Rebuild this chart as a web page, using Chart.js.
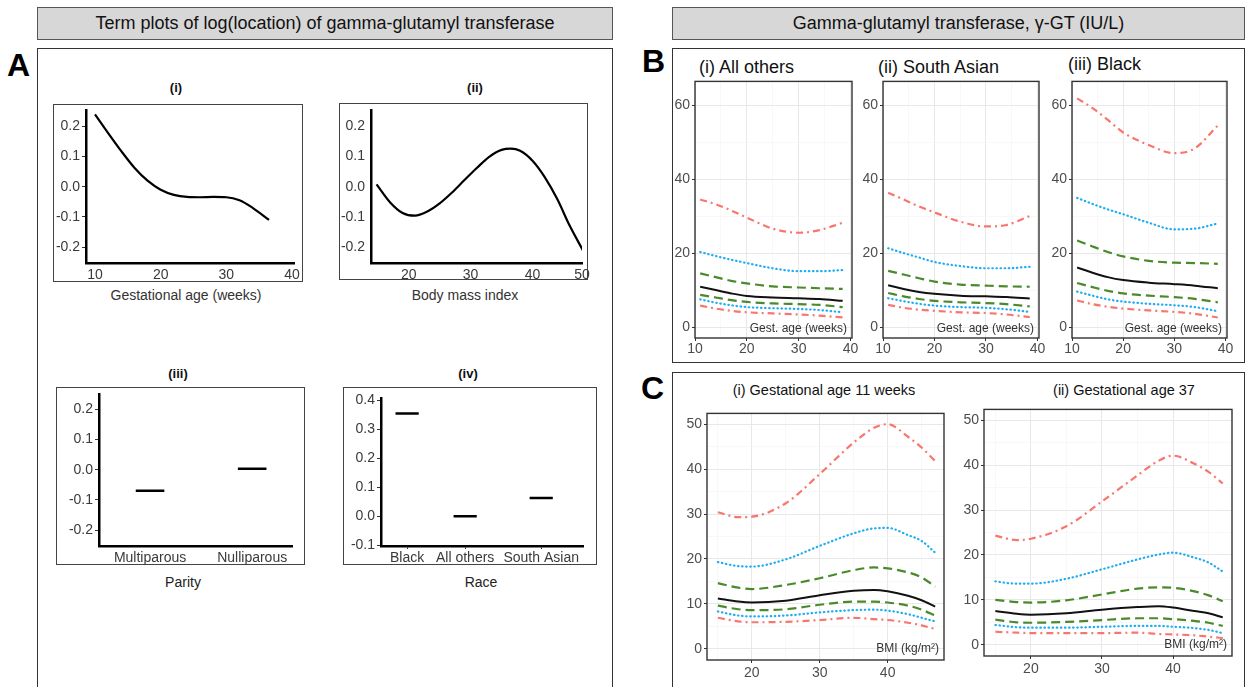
<!DOCTYPE html>
<html>
<head>
<meta charset="utf-8">
<script src="https://cdn.jsdelivr.net/npm/chart.js@4.4.0/dist/chart.umd.min.js"></script>
<style>
body { margin:0; width:1247px; height:687px; overflow:hidden; background:#fff; position:relative;
       font-family:"Liberation Sans", Arial, sans-serif; }
canvas { position:absolute; }
.hdr { position:absolute; background:#d7d7d7; border:1px solid #555; box-sizing:border-box;
       text-align:center; font-size:18px; color:#111; line-height:31px; }
.frame { position:absolute; border:1.5px solid #333; box-sizing:border-box; }
.inner { position:absolute; border:1.5px solid #444; box-sizing:border-box; }
.lett { position:absolute; font-weight:bold; font-size:32px; line-height:32px; color:#000; }
.c { position:absolute; white-space:nowrap; color:#111; transform:translate(-50%,-50%); }
.l { position:absolute; white-space:nowrap; color:#111; transform:translate(0,-50%); }
</style>
</head>
<body>
<div class="hdr" style="left:37px;top:7px;width:576px;height:33px;">Term plots of log(location) of gamma-glutamyl transferase</div>
<div class="hdr" style="left:672px;top:7px;width:573px;height:33px;">Gamma-glutamyl transferase, γ-GT (IU/L)</div>

<div class="frame" style="left:37px;top:48px;width:576px;height:660px;"></div>
<div class="frame" style="left:672px;top:48px;width:573px;height:315px;"></div>
<div class="frame" style="left:672px;top:372px;width:573px;height:330px;"></div>

<div class="lett" style="left:7px;top:49px;">A</div>
<div class="lett" style="left:642px;top:45px;">B</div>
<div class="lett" style="left:641px;top:372px;">C</div>

<div class="inner" style="left:53px;top:104px;width:250px;height:178px;"></div>
<div class="inner" style="left:339px;top:103px;width:249px;height:177px;"></div>
<div class="inner" style="left:56px;top:387px;width:249px;height:178px;"></div>
<div class="inner" style="left:343px;top:387px;width:254px;height:178px;"></div>

<div class="c" style="left:176px;top:87px;font-size:13px;font-weight:bold;">(i)</div>
<div class="c" style="left:475px;top:87px;font-size:13px;font-weight:bold;">(ii)</div>
<div class="c" style="left:178px;top:373px;font-size:13px;font-weight:bold;">(iii)</div>
<div class="c" style="left:468px;top:373px;font-size:13px;font-weight:bold;">(iv)</div>
<div class="c" style="left:186px;top:295px;font-size:14px;color:#333;">Gestational age (weeks)</div>
<div class="c" style="left:465px;top:295px;font-size:14px;color:#333;">Body mass index</div>
<div class="c" style="left:183px;top:582px;font-size:14px;color:#222;">Parity</div>
<div class="c" style="left:481px;top:582px;font-size:14px;color:#222;">Race</div>

<div class="l" style="left:699px;top:67px;font-size:18px;">(i) All others</div>
<div class="l" style="left:878px;top:67px;font-size:18px;">(ii) South Asian</div>
<div class="l" style="left:1068px;top:64px;font-size:18px;">(iii) Black</div>
<div class="c" style="left:824px;top:390px;font-size:14.5px;">(i) Gestational age 11 weeks</div>
<div class="c" style="left:1124px;top:390px;font-size:14.5px;">(ii) Gestational age 37</div>

<script>
// ---- Panel A: term plots ----
const gaWeeks = [10, 12, 14, 16, 18, 20, 22, 24, 26, 28, 30, 32, 34, 36.5];
const gaEffect = [0.24, 0.178, 0.118, 0.063, 0.02, -0.01, -0.027, -0.034, -0.035, -0.034, -0.035, -0.045, -0.07, -0.11];
const bmiValues = [14.8, 17, 19, 21, 23, 25, 27, 29, 31, 33, 35, 36.5, 38, 40, 42, 44, 46, 48.2];
const bmiEffect = [0.008, -0.052, -0.087, -0.096, -0.082, -0.055, -0.019, 0.022, 0.062, 0.099, 0.122, 0.126, 0.119, 0.086, 0.031, -0.041, -0.129, -0.213];
const parityCats = ['Multiparous', 'Nulliparous'];
const parityPos = [1, 2];
const parityEffect = [-0.07, 0.003];
const raceCats = ['Black', 'All others', 'South Asian'];
const racePos = [1, 2, 3.31];
const raceEffect = [0.355, 0.0, 0.063];
const termYTicks = [-0.2, -0.1, 0, 0.1, 0.2];
const raceYTicks = [-0.1, 0, 0.1, 0.2, 0.3, 0.4];
const gaTicks = [10, 20, 30, 40];
const bmiTickLabels = ['20', '30', '40', '50'];

// ---- Panel B: centiles by gestational age (3rd,10th,25th,50th,75th,90th,97th) ----
const bGA = [11, 14, 17, 20, 25, 30, 34, 38.5];
const allOthers = [
  [5.8, 5.0, 4.4, 4.0, 3.7, 3.4, 3.1, 2.6],
  [7.5, 6.6, 5.9, 5.4, 5.1, 4.9, 4.6, 4.0],
  [8.7, 8.0, 7.3, 6.8, 6.4, 6.2, 6.0, 5.4],
  [10.9, 10.0, 9.1, 8.4, 8.0, 7.8, 7.6, 7.1],
  [14.5, 13.5, 12.5, 11.8, 11.0, 10.7, 10.5, 10.3],
  [20.3, 19.2, 18.2, 17.3, 15.9, 15.1, 15.1, 15.4],
  [34.5, 33.2, 31.5, 29.6, 26.6, 25.5, 26.2, 28.2]
];
const southAsian = [
  [6.0, 5.2, 4.7, 4.4, 4.0, 3.8, 3.4, 2.7],
  [7.8, 7.0, 6.3, 5.8, 5.4, 5.2, 4.8, 4.1],
  [9.2, 8.3, 7.6, 7.1, 6.7, 6.5, 6.2, 5.6],
  [11.3, 10.3, 9.5, 9.0, 8.5, 8.3, 8.1, 7.7],
  [15.2, 14.2, 13.2, 12.3, 11.5, 11.2, 11.0, 10.9],
  [21.3, 20.0, 18.8, 17.6, 16.5, 15.9, 15.9, 16.3],
  [36.3, 34.5, 32.6, 31.0, 28.5, 27.2, 27.6, 30.0]
];
const black = [
  [7.2, 6.2, 5.5, 5.0, 4.5, 4.1, 3.6, 2.6],
  [9.6, 8.5, 7.5, 6.9, 6.3, 5.9, 5.4, 4.3],
  [11.9, 10.8, 9.8, 9.1, 8.5, 8.1, 7.6, 6.7],
  [16.1, 14.7, 13.5, 12.7, 12.0, 11.6, 11.2, 10.5],
  [23.4, 21.8, 20.3, 19.1, 17.9, 17.4, 17.3, 17.1],
  [34.9, 33.3, 31.8, 30.5, 28.2, 26.4, 26.6, 28.0],
  [61.8, 59.2, 56.0, 52.6, 49.2, 47.0, 48.3, 54.5]
];
const bXTicks = [10, 15, 20, 25, 30, 35, 40];
const bXMajor = [10, 20, 30, 40];
const bYTicks = [0, 10, 20, 30, 40, 50, 60];
const bYMajor = [0, 20, 40, 60];

// ---- Panel C: centiles by BMI ----
const cBMI = [15, 18, 20, 25, 30, 35, 38, 40, 43, 45, 47];
const week11 = [
  [6.9, 6.1, 5.9, 6.0, 6.4, 6.9, 6.6, 6.4, 5.8, 5.2, 4.4],
  [8.3, 7.4, 7.2, 7.4, 8.1, 8.6, 8.7, 8.5, 7.7, 6.9, 6.1],
  [9.6, 8.8, 8.6, 8.8, 9.8, 10.5, 10.5, 10.3, 9.6, 8.7, 7.4],
  [11.2, 10.5, 10.3, 10.7, 11.9, 12.9, 13.1, 12.8, 11.8, 10.8, 9.4],
  [14.6, 13.6, 13.3, 14.2, 15.7, 17.5, 18.1, 17.9, 17.0, 15.9, 13.8],
  [19.3, 18.4, 18.3, 19.9, 22.9, 25.7, 26.8, 26.9, 25.3, 24.0, 21.4],
  [30.4, 29.3, 29.4, 32.4, 38.9, 45.9, 49.2, 50.0, 47.2, 44.8, 41.8]
];
const week37 = [
  [2.9, 2.7, 2.6, 2.6, 2.6, 2.7, 2.4, 2.3, 2.1, 1.8, 1.5],
  [4.4, 3.9, 3.8, 3.8, 4.0, 4.2, 4.2, 4.0, 3.7, 3.3, 2.6],
  [5.6, 5.0, 4.9, 5.1, 5.5, 5.9, 5.9, 5.7, 5.3, 4.9, 4.2],
  [7.5, 6.9, 6.7, 7.0, 7.8, 8.4, 8.6, 8.3, 7.5, 7.0, 6.1],
  [10.0, 9.5, 9.4, 9.9, 11.2, 12.5, 12.8, 12.7, 11.9, 11.0, 9.7],
  [14.1, 13.6, 13.6, 14.7, 16.8, 19.0, 20.1, 20.5, 19.4, 18.3, 16.3],
  [24.3, 23.3, 23.6, 26.4, 31.9, 37.7, 41.0, 42.1, 40.3, 38.5, 35.9]
];
const cXTicks = [15, 20, 25, 30, 35, 40, 45];
const cXMajor = [20, 30, 40];
const cYTicks = [0, 5, 10, 15, 20, 25, 30, 35, 40, 45, 50];
const cYMajor = [0, 10, 20, 30, 40, 50];

// line look for the 7 centiles, lowest first
const RED = '#F8766D', BLUE = '#1DADF2', GREEN = '#4B8A2A';
const centStyle = [
  { color: RED, dash: [7, 4, 2, 4], cap: 'butt' },
  { color: BLUE, dash: [0.5, 3.6], cap: 'round' },
  { color: GREEN, dash: [9, 5], cap: 'butt' },
  { color: '#111', dash: [], cap: 'butt' },
  { color: GREEN, dash: [9, 5], cap: 'butt' },
  { color: BLUE, dash: [0.5, 3.6], cap: 'round' },
  { color: RED, dash: [7, 4, 2, 4], cap: 'butt' }
];

const FONT = '"Liberation Sans", Arial, sans-serif';

function makeCanvas(area, m) {
  const c = document.createElement('canvas');
  const w = area[2] - area[0] + m[0] + m[2];
  const h = area[3] - area[1] + m[1] + m[3];
  c.width = w; c.height = h;
  c.style.left = (area[0] - m[0]) + 'px';
  c.style.top = (area[1] - m[1]) + 'px';
  c.style.width = w + 'px'; c.style.height = h + 'px';
  document.body.appendChild(c);
  return c;
}

// frame round the plot area + small label in the corner
const framePlugin = {
  id: 'frame',
  afterDraw(chart, args, opts) {
    const { ctx, chartArea: a } = chart;
    ctx.save();
    if (opts.box) {
      ctx.strokeStyle = '#333'; ctx.lineWidth = 1.4;
      ctx.strokeRect(a.left, a.top, a.right - a.left, a.bottom - a.top);
    }
    if (opts.corner) {
      ctx.font = '12px ' + FONT; ctx.fillStyle = '#333';
      ctx.textAlign = 'right'; ctx.textBaseline = 'alphabetic';
      ctx.fillText(opts.corner, a.right - 5, a.bottom - opts.cornerUp);
    }
    ctx.restore();
  }
};

const baseOpts = {
  responsive: false, animation: false, devicePixelRatio: 1,
  plugins: { legend: { display: false }, tooltip: { enabled: false } }
};

function termChart(area, m, datasets, xr, yr, xTicks, xLabel, yTicks, yMarks, xMarks) {
  const c = makeCanvas(area, m);
  new Chart(c, {
    type: 'line',
    data: { datasets: datasets },
    options: Object.assign({}, baseOpts, {
      layout: { padding: { top: m[1], right: m[2], left: 0, bottom: 0 } },
      scales: {
        x: {
          type: 'linear', min: xr[0], max: xr[1],
          afterBuildTicks: s => { s.ticks = xTicks.map(v => ({ value: v })); },
          afterFit: s => { s.height = m[3]; },
          ticks: { autoSkip: false, maxRotation: 0, padding: 1, color: '#3a3a3a',
                   font: { family: FONT, size: 14 }, callback: (v, i) => xLabel(v, i) },
          grid: { drawOnChartArea: false, drawTicks: true, tickLength: 3,
                  tickColor: xMarks ? '#333' : 'rgba(0,0,0,0)' },
          border: { display: true, color: '#000', width: 2.5 }
        },
        y: {
          type: 'linear', min: yr[0], max: yr[1],
          afterBuildTicks: s => { s.ticks = yTicks.map(v => ({ value: v })); },
          afterFit: s => { s.width = m[0]; },
          ticks: { autoSkip: false, padding: 2, color: '#3a3a3a',
                   font: { family: FONT, size: 14 }, callback: v => v.toFixed(1) },
          grid: { drawOnChartArea: false, drawTicks: true, tickLength: 4,
                  tickColor: yMarks ? '#333' : 'rgba(0,0,0,0)' },
          border: { display: true, color: '#000', width: 2.5 }
        }
      }
    })
  });
}

function curve(xs, ys) {
  return { data: xs.map((x, i) => ({ x: x, y: ys[i] })), borderColor: '#000', borderWidth: 2.2,
           pointRadius: 0, cubicInterpolationMode: 'monotone', fill: false };
}
function segments(pos, vals, hw) {
  return pos.map((p, i) => ({ data: [{ x: p - hw, y: vals[i] }, { x: p + hw, y: vals[i] }],
           borderColor: '#000', borderWidth: 2.5, pointRadius: 0, fill: false }));
}

const mA = [40, 10, 14, 24];
termChart([86, 110, 294, 263], mA, [curve(gaWeeks, gaEffect)], [8.63, 40.3], [-0.253, 0.253],
  gaTicks, v => String(v), termYTicks, true, false);
termChart([371, 110, 582, 263], mA, [curve(bmiValues, bmiEffect)], [13.9, 48.0], [-0.253, 0.253],
  [20, 30, 40, 48.0], (v, i) => bmiTickLabels[i], termYTicks, false, false);
termChart([99, 394, 292, 546], mA, segments(parityPos, parityEffect, 0.14), [0.5, 2.39], [-0.253, 0.25],
  parityPos, (v, i) => parityCats[i], termYTicks, true, false);
termChart([381, 398, 583, 546], mA, segments(racePos, raceEffect, 0.2), [0.55, 4.03], [-0.103, 0.407],
  racePos, (v, i) => raceCats[i], raceYTicks, true, true);

function centileChart(area, m, xs, series, xr, yr, xTicks, xMajor, yTicks, yMajor, corner, cornerUp, xPad) {
  const c = makeCanvas(area, m);
  const isMajor = (list, ctx) => ctx.tick && list.includes(ctx.tick.value);
  new Chart(c, {
    type: 'line',
    data: {
      datasets: series.map((ys, i) => ({
        data: xs.map((x, k) => ({ x: x, y: ys[k] })),
        borderColor: centStyle[i].color, borderDash: centStyle[i].dash, borderCapStyle: centStyle[i].cap,
        borderWidth: i === 3 ? 2 : 2.2, pointRadius: 0, cubicInterpolationMode: 'monotone', fill: false
      }))
    },
    options: Object.assign({}, baseOpts, {
      layout: { padding: { top: m[1], right: m[2], left: 0, bottom: 0 } },
      plugins: Object.assign({}, baseOpts.plugins, { frame: { box: true, corner: corner, cornerUp: cornerUp } }),
      scales: {
        x: {
          type: 'linear', min: xr[0], max: xr[1],
          afterBuildTicks: s => { s.ticks = xTicks.map(v => ({ value: v })); },
          afterFit: s => { s.height = m[3]; },
          ticks: { autoSkip: false, maxRotation: 0, padding: xPad, color: '#4d4d4d',
                   font: { family: FONT, size: 14 }, callback: v => xMajor.includes(v) ? String(v) : '' },
          grid: { color: ctx => isMajor(xMajor, ctx) ? '#e8e8e8' : '#f3f3f3',
                  lineWidth: ctx => isMajor(xMajor, ctx) ? 1 : 0.6,
                  tickColor: ctx => isMajor(xMajor, ctx) ? '#333' : 'rgba(0,0,0,0)', tickLength: 3 },
          border: { display: false }
        },
        y: {
          type: 'linear', min: yr[0], max: yr[1],
          afterBuildTicks: s => { s.ticks = yTicks.map(v => ({ value: v })); },
          afterFit: s => { s.width = m[0]; },
          ticks: { autoSkip: false, padding: 2, color: '#4d4d4d',
                   font: { family: FONT, size: 14 }, callback: v => yMajor.includes(v) ? String(v) : '' },
          grid: { color: ctx => isMajor(yMajor, ctx) ? '#e8e8e8' : '#f3f3f3',
                  lineWidth: ctx => isMajor(yMajor, ctx) ? 1 : 0.6,
                  tickColor: ctx => isMajor(yMajor, ctx) ? '#333' : 'rgba(0,0,0,0)', tickLength: 3 },
          border: { display: false }
        }
      }
    }),
    plugins: [framePlugin]
  });
}

const mB = [34, 8, 14, 22];
const bXR = [10, 40.3], bYR = [-2.95, 66.4];
centileChart([695, 79, 852, 338], mB, bGA, allOthers, bXR, bYR, bXTicks, bXMajor, bYTicks, bYMajor, 'Gest. age (weeks)', 6, 0);
centileChart([883, 79, 1039, 338], mB, bGA, southAsian, bXR, bYR, bXTicks, bXMajor, bYTicks, bYMajor, 'Gest. age (weeks)', 6, 0);
centileChart([1072, 79, 1227, 338], mB, bGA, black, bXR, bYR, bXTicks, bXMajor, bYTicks, bYMajor, 'Gest. age (weeks)', 6, 0);

const mC = [34, 8, 14, 24];
const cXR = [13.4, 48.3], cYR = [-2.5, 52.4];
centileChart([707, 411, 944, 660], mC, cBMI, week11, cXR, cYR, cXTicks, cXMajor, cYTicks, cYMajor, 'BMI (kg/m²)', 8, 2);
centileChart([984, 407, 1232, 656], mC, cBMI, week37, cXR, cYR, cXTicks, cXMajor, cYTicks, cYMajor, 'BMI (kg/m²)', 8, 2);
</script>
</body>
</html>
